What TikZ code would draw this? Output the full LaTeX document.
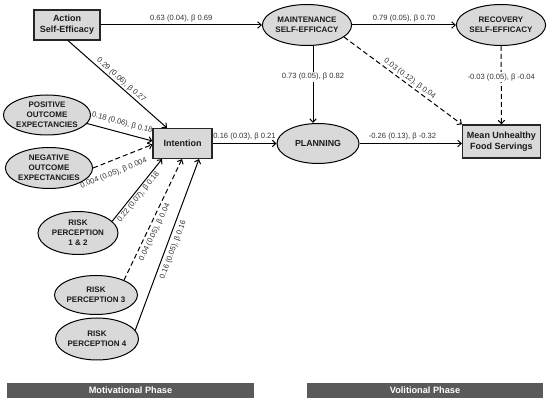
\documentclass[tikz,border=0pt]{standalone}
\usepackage{fontspec}
\setmainfont{Liberation Sans}
\usetikzlibrary{shapes.geometric,arrows.meta}
\definecolor{nodefill}{HTML}{D9D9D9}
\definecolor{barfill}{HTML}{5A5A5A}
\definecolor{labelcol}{HTML}{333333}
\definecolor{textcol}{HTML}{1A1A1A}
\begin{document}
\begin{tikzpicture}[x=1pt,y=-1pt,
  ell/.style={ellipse, draw=black, line width=1pt, fill=nodefill, inner sep=0pt, align=center, text=textcol,
    font=\fontsize{8}{10.2}\selectfont\bfseries},
  box/.style={rectangle, draw=black!85, line width=1.2pt, fill=nodefill, inner sep=0pt, align=center, text=textcol,
    font=\fontsize{9}{11}\selectfont\bfseries},
  arr/.style={line width=1pt, -{Straight Barb[length=3.5pt,width=6.5pt]}},
  dsh/.style={arr, dash pattern=on 5pt off 3pt},
  lbl/.style={font=\fontsize{7.6}{9}\selectfont, text=labelcol, inner sep=1.5pt},
  bar/.style={fill=barfill, text=white, font=\fontsize{9.2}{10}\selectfont\bfseries, inner sep=0pt, minimum height=15pt}
]
\useasboundingbox (0,0) rectangle (550,406);

% nodes
\node[box, minimum width=66pt, minimum height=30pt] (act) at (67,25) {Action\\Self-Efficacy};
\node[ell, minimum width=81pt, minimum height=41pt] (maint) at (307,25) {MAINTENANCE\\SELF-EFFICACY};
\node[ell, minimum width=87pt, minimum height=41pt] (rec) at (501,25) {RECOVERY\\SELF-EFFICACY};
\node[ell, minimum width=83pt, minimum height=40pt] (pos) at (47,115) {POSITIVE\\OUTCOME\\EXPECTANCIES};
\node[ell, minimum width=85pt, minimum height=41pt] (neg) at (49,168) {NEGATIVE\\OUTCOME\\EXPECTANCIES};
\node[box, minimum width=59pt, minimum height=30pt] (int) at (182.5,143.5) {Intention};
\node[ell, minimum width=80pt, minimum height=43pt] (rp12) at (78,233) {RISK\\PERCEPTION\\1 \& 2};
\node[ell, minimum width=82pt, minimum height=39pt] (rp3) at (96,295) {RISK\\PERCEPTION 3};
\node[ell, minimum width=80pt, minimum height=42pt] (rp4) at (97,339) {RISK\\PERCEPTION 4};
\node[ell, minimum width=82pt, minimum height=40pt, font=\fontsize{8.8}{10}\selectfont\bfseries] (plan) at (318,143.5) {PLANNING};
\node[box, minimum width=78pt, minimum height=33pt] (mean) at (501.5,141.5) {Mean Unhealthy\\Food Servings};

\node[bar, minimum width=247pt] (mot) at (130.5,390.5) {Motivational Phase};
\node[bar, minimum width=236pt] (vol) at (425,390.5) {Volitional Phase};

\coordinate (vx) at (313,0);

% connectors
\draw[arr] (act) -- (maint) node[lbl, midway, above=1pt] {0.63 (0.04), β 0.69};
\draw[arr] (maint) -- (rec) node[lbl, midway, above=1pt] {0.79 (0.05), β 0.70};
\draw[arr] (maint.south -| vx) -- (plan.north -| vx) node[lbl, pos=0.4, fill=white] {0.73 (0.05), β 0.82};
\draw[dsh] (rec) -- (mean) node[lbl, pos=0.4, fill=white] {-0.03 (0.05), β -0.04};
\draw[dsh] (maint.-18) -- (mean.north west) node[lbl, pos=0.53, above, sloped] {0.03 (0.12), β 0.04};
\draw[arr] (int) -- (plan) node[lbl, midway, above=1pt] {0.16 (0.03), β 0.21};
\draw[arr] (plan) -- (mean.west |- plan) node[lbl, pos=0.42, above=1pt] {-0.26 (0.13), β -0.32};

\draw[arr] ([xshift=1pt]act.south) -- ([xshift=-15.5pt]int.north) node[lbl, midway, above, sloped] {0.29 (0.06), β 0.27};
\draw[arr] (pos.-12) -- ([yshift=2.5pt]int.west) node[lbl, midway, above=4pt, sloped] {0.18 (0.06), β 0.18};
\draw[dsh] (neg.east) -- ([yshift=-1pt]int.west) node[lbl, pos=0.27, below=7pt, sloped] {0.004 (0.05), β 0.004};
\draw[arr] (rp12.19) -- ([xshift=-20.5pt]int.south) node[lbl, pos=0.44, below, sloped] {0.22 (0.07), β 0.18};
\draw[dsh] (rp3.28) -- ([xshift=-0.5pt]int.south) node[lbl, pos=0.42, below=1.5pt, sloped] {0.04 (0.05), β 0.04};
\draw[arr] (rp4.13) -- ([xshift=16.5pt]int.south) node[lbl, pos=0.485, below=2pt, sloped] {0.16 (0.05), β 0.16};
\end{tikzpicture}
\end{document}
